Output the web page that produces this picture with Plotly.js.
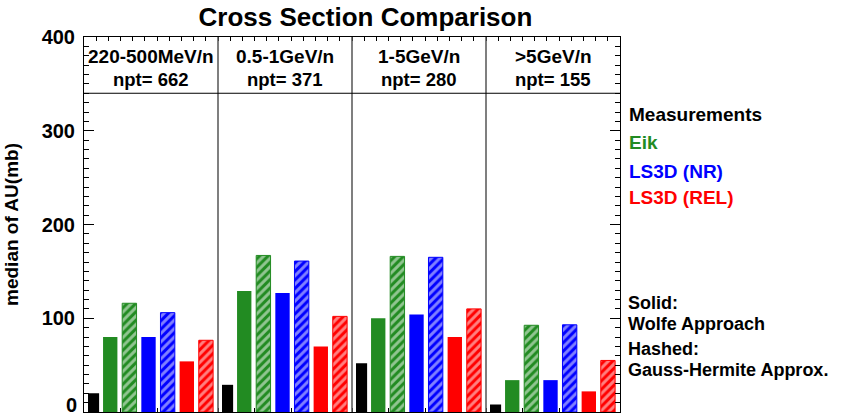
<!DOCTYPE html>
<html>
<head>
<meta charset="utf-8">
<script src="https://cdn.plot.ly/plotly-3.0.1.min.js"></script>
<style>html,body{margin:0;padding:0;background:#fff;}#chart{width:845px;height:415px;}</style>
</head>
<body>
<div id="chart"></div>
<script>
// ---- data ----
var energyBins = ["220-500MeV/n", "0.5-1GeV/n", "1-5GeV/n", ">5GeV/n"];
var npt = [662, 371, 280, 155];
var measurements = [20, 29, 52, 8];
var eikWolfe = [80, 129, 100, 34];
var eikGauss = [116, 167, 166, 92.5];
var nrWolfe = [80, 127, 104, 34];
var nrGauss = [106, 161, 165, 93];
var relWolfe = [54, 70, 80, 22];
var relGauss = [76.5, 102, 110, 55];
var yTickVals = [100, 200, 300, 400];
var legendLabels = ["Measurements", "Eik", "LS3D (NR)", "LS3D (REL)"];
var noteLabels = [["Solid:", "Wolfe Approach"], ["Hashed:", "Gauss-Hermite Approx."]];

// ---- styling / layout ----
var FONT = "Liberation Sans, Arial, Helvetica, sans-serif";
var GREEN = "#228B22", BLUE = "#0000FF", RED = "#FF0000", BLACK = "#000000";
var slots = 7; // bars per panel

var series = [
  {vals: measurements, color: BLACK, hatched: false, offset: 0.5, width: 0.58},
  {vals: eikWolfe, color: GREEN, hatched: false, offset: 1.37, width: 0.75},
  {vals: eikGauss, color: GREEN, hatched: true, offset: 2.37, width: 0.75},
  {vals: nrWolfe, color: BLUE, hatched: false, offset: 3.37, width: 0.75},
  {vals: nrGauss, color: BLUE, hatched: true, offset: 4.37, width: 0.75},
  {vals: relWolfe, color: RED, hatched: false, offset: 5.37, width: 0.75},
  {vals: relGauss, color: RED, hatched: true, offset: 6.37, width: 0.75}
];

var traces = series.map(function (s) {
  var marker = {color: s.color, line: {color: s.color, width: s.hatched ? 1 : 0}};
  if (s.hatched) {
    marker.pattern = {shape: "/", fillmode: "overlay", bgcolor: s.color, fgcolor: "#ffffff", size: 6, solidity: 0.5};
  }
  return {
    type: "bar",
    x: energyBins.map(function (_, p) { return p * slots + s.offset; }),
    y: s.vals,
    width: s.width,
    marker: marker,
    showlegend: false,
    hoverinfo: "y"
  };
});

var nPanels = energyBins.length;
var shapes = [];
for (var p = 1; p < nPanels; p++) {
  shapes.push({type: "line", xref: "x", yref: "y", x0: p * slots, x1: p * slots, y0: 0, y1: 400,
    line: {color: "#555555", width: 1.5}});
}
shapes.push({type: "line", xref: "x", yref: "y", x0: 0, x1: nPanels * slots, y0: 340, y1: 340,
  line: {color: "#000000", width: 1}});

var annotations = [];
energyBins.forEach(function (lab, p) {
  annotations.push({xref: "x", yref: "y", x: p * slots + 3.5, y: 379.5, text: lab, showarrow: false,
    font: {family: FONT, size: 19, color: "#000", weight: "bold"}});
  annotations.push({xref: "x", yref: "y", x: p * slots + 3.5, y: 354.5, text: "npt= " + npt[p], showarrow: false,
    font: {family: FONT, size: 18.5, color: "#000", weight: "bold"}});
});
var legendColors = [BLACK, GREEN, BLUE, RED];
var legendY = [317.5, 287.5, 257, 228.5];
legendLabels.forEach(function (lab, i) {
  annotations.push({xref: "paper", yref: "y", x: 1.013, xanchor: "left", y: legendY[i], text: lab, showarrow: false,
    font: {family: FONT, size: 19, color: legendColors[i], weight: "bold"}});
});
// two-line notes: base size sets the tight line spacing, spans carry the visible size
var noteY = [105, 55.8];
noteLabels.forEach(function (lines, i) {
  annotations.push({xref: "paper", yref: "y", x: 1.013, xanchor: "left", align: "left", y: noteY[i],
    text: lines.map(function (t) { return "<span style='font-size:18px'>" + t + "</span>"; }).join("<br>"),
    showarrow: false, borderpad: 0,
    font: {family: FONT, size: 16.2, color: "#000", weight: "bold"}});
});
// zero label of the y axis, lifted above the bottom edge as in the reference
annotations.push({xref: "paper", yref: "y", x: -0.011, xanchor: "right", y: 7, yanchor: "middle", text: "0",
  showarrow: false, borderpad: 0, font: {family: FONT, size: 20, color: "#000", weight: "bold"}});

var layout = {
  width: 845, height: 415,
  margin: {l: 84, r: 225, t: 37, b: 3},
  paper_bgcolor: "#fff", plot_bgcolor: "#fff",
  font: {family: FONT, color: "#000", weight: "bold"},
  title: {text: "Cross Section Comparison", xref: "container", x: 0.4325, xanchor: "center",
    yref: "container", y: 1 - 17 / 415, yanchor: "middle",
    font: {family: FONT, size: 26, color: "#000", weight: "bold"}},
  barmode: "overlay",
  xaxis: {range: [0, nPanels * slots], showgrid: false, zeroline: false, showline: true, linecolor: "#000", linewidth: 1,
    mirror: "ticks", ticks: "inside", ticklen: 4, tickcolor: "#000", dtick: nPanels * slots / 44, tick0: 0,
    showticklabels: false, layer: "below traces"},
  yaxis: {range: [0, 400], showgrid: false, zeroline: false, showline: true, linecolor: "#000", linewidth: 1,
    mirror: "ticks", ticks: "inside", ticklen: 10, tickcolor: "#000", tickvals: yTickVals,
    minor: {dtick: 10, ticks: "inside", ticklen: 5, tickcolor: "#000", showgrid: false},
    ticklabelstandoff: 4,
    tickfont: {family: FONT, size: 20, color: "#000", weight: "bold"},
    title: {text: "median of AU(mb)", standoff: 17, font: {family: FONT, size: 19, color: "#000", weight: "bold"}}},
  shapes: shapes,
  annotations: annotations
};

Plotly.newPlot("chart", traces, layout, {displayModeBar: false, staticPlot: true});
</script>
</body>
</html>
